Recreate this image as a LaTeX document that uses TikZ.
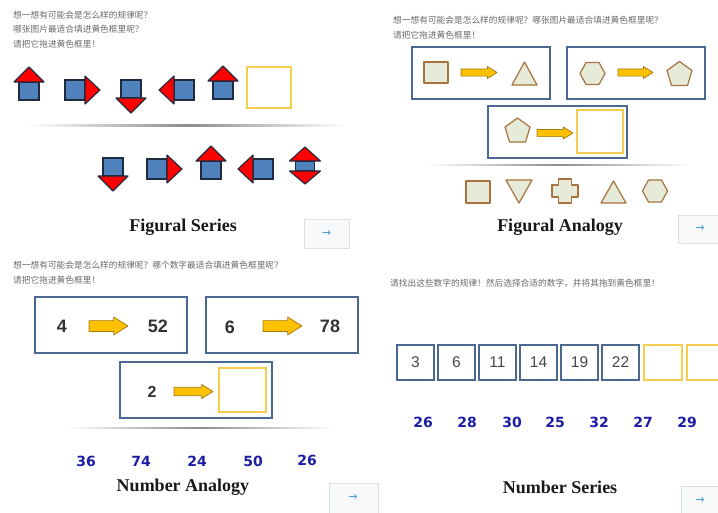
\documentclass[tikz,border=0pt]{standalone}
\usepackage{fontspec}
\setmainfont{Liberation Serif}
\newfontfamily\cjk{Noto Sans CJK SC}
\newfontfamily\arialf{Liberation Sans}
\newfontfamily\dvs{DejaVu Sans}
\usetikzlibrary{calc}
\definecolor{cngray}{HTML}{6A6A6A}
\definecolor{sqblue}{HTML}{4F81BD}
\definecolor{sqedge}{HTML}{1E2A3E}
\definecolor{ygold}{HTML}{F5CD50}
\definecolor{boxblue}{HTML}{4A6892}
\definecolor{figbrown}{HTML}{A8733C}
\definecolor{figfill}{HTML}{E6EBD9}
\definecolor{yarrowfill}{HTML}{FFC000}
\definecolor{yarrowedge}{HTML}{9C7A10}
\definecolor{optblue}{HTML}{1C1CA8}
\definecolor{numgray}{HTML}{333333}
\definecolor{btngray}{HTML}{D9DEE3}
\definecolor{btnfill}{HTML}{F8F9FA}
\definecolor{btnarrow}{HTML}{3A9AD0}
\tikzset{
  cn/.style={anchor=west, font=\cjk\fontsize{8.7}{10}\selectfont, text=cngray, inner sep=0pt},
  ttl/.style={font=\bfseries\fontsize{18}{20}\selectfont, inner sep=0pt, text=black!90},
  sqr/.style={draw=sqedge, fill=sqblue, line width=1.1pt},
  hd/.style={draw=sqedge, fill=red, line width=1.1pt, line join=round},
  ybox/.style={draw=ygold, line width=1.3pt},
  bbox/.style={draw=boxblue, line width=1.6pt},
  fig/.style={draw=figbrown, fill=figfill, line width=1.2pt, line join=round},
  yarr/.style={draw=yarrowedge, fill=yarrowfill, line width=0.7pt, line join=round},
  opt/.style={font=\dvs\bfseries\fontsize{14}{16}\selectfont, text=optblue, inner sep=0pt},
  num/.style={font=\arialf\bfseries\fontsize{18}{20}\selectfont, text=numgray, inner sep=0pt},
  snum/.style={font=\arialf\fontsize{15.5}{17}\selectfont, text=numgray!90, inner sep=0pt},
  btn/.style={draw=btngray, fill=btnfill, line width=0.6pt},
  btnarr/.style={font=\dvs\fontsize{11}{12}\selectfont, text=btnarrow, inner sep=0pt},
  sep/.style={left color=white, right color=white, middle color=black!45},
  pics/arrup/.style={code={
    \draw[sqr] (-10,-9) rectangle (10,9);
    \draw[hd] (-15,-9) -- (15,-9) -- (0,-24) -- cycle;}},
  pics/arrdown/.style={code={
    \draw[sqr] (-10,-9) rectangle (10,9);
    \draw[hd] (-15,9) -- (15,9) -- (0,24) -- cycle;}},
  pics/arrright/.style={code={
    \draw[sqr] (-10,-10) rectangle (10,10);
    \draw[hd] (10,-14) -- (10,14) -- (25,0) -- cycle;}},
  pics/arrleft/.style={code={
    \draw[sqr] (-10,-10) rectangle (10,10);
    \draw[hd] (-10,-14) -- (-10,14) -- (-25,0) -- cycle;}},
  pics/arrboth/.style={code={
    \draw[sqr] (-9.5,-5) rectangle (9.5,5);
    \draw[hd] (-15.5,-5) -- (15.5,-5) -- (0,-19) -- cycle;
    \draw[hd] (-15.5,5) -- (15.5,5) -- (0,18) -- cycle;}},
}
% yellow block arrow: x0, x1, yc, h
\newcommand\yarw[4]{\draw[yarr] (#1,{#3-#4*0.3}) -- ({#2-#4*0.8},{#3-#4*0.3}) -- ({#2-#4*0.8},{#3-#4/2}) -- (#2,#3) -- ({#2-#4*0.8},{#3+#4/2}) -- ({#2-#4*0.8},{#3+#4*0.3}) -- (#1,{#3+#4*0.3}) -- cycle;}
% hexagon: cx, cy
\newcommand\hexa[2]{\draw[fig] ({#1-12.5},#2) -- ({#1-6.5},{#2-11}) -- ({#1+6.5},{#2-11}) -- ({#1+12.5},#2) -- ({#1+6.5},{#2+11}) -- ({#1-6.5},{#2+11}) -- cycle;}
% pentagon: cx, cy
\newcommand\penta[2]{\draw[fig] (#1,{#2-12}) -- ({#1+12.5},{#2-3}) -- ({#1+8},{#2+12}) -- ({#1-8},{#2+12}) -- ({#1-12.5},{#2-3}) -- cycle;}
\begin{document}
\begin{tikzpicture}[x=1pt,y=-1pt]
\useasboundingbox (0,0) rectangle (718,512);
\fill[white] (0,0) rectangle (718,512);

% ================= Panel 1: Figural Series =================
\node[cn] (p1t1) at (13,15) {想一想有可能会是怎么样的规律呢？};
\node[cn] (p1t2) at (13,29) {哪张图片最适合填进黄色框里呢？};
\node[cn] (p1t3) at (13,44) {请把它拖进黄色框里！};
\pic at (29,91) {arrup};
\pic at (75,90) {arrright};
\pic at (131,89) {arrdown};
\pic at (184,90) {arrleft};
\pic at (223,90) {arrup};
\draw[ybox] (247,67) rectangle (291,108);
\shade[sep] (27,124.8) rectangle (347,126);
\pic at (113,167) {arrdown};
\pic at (157,169) {arrright};
\pic at (211,170) {arrup};
\pic at (263,169) {arrleft};
\pic at (305,166) {arrboth};
\node[ttl] (p1title) at (183,227) {Figural Series};
\draw[btn] (304,219) rectangle (349,248);
\node[btnarr] (p1btn) at (326.5,234) {→};

% ================= Panel 2: Figural Analogy =================
\node[cn] (p2t1) at (393,20) {想一想有可能会是怎么样的规律呢？哪张图片最适合填进黄色框里呢？};
\node[cn] (p2t2) at (393,35) {请把它拖进黄色框里！};
\draw[bbox] (412,47) rectangle (550,99);
\draw[bbox] (567,47) rectangle (705,99);
\draw[bbox] (488,106) rectangle (627,158);
\draw[fig] (424,62) rectangle (448,83);
\yarw{461}{497}{72.5}{12}
\draw[fig] (512,85) -- (537,85) -- (524.5,62) -- cycle;
\hexa{592.5}{73.5}
\yarw{618}{653}{72.5}{12}
\penta{679.5}{73.5}
\penta{517.5}{130}
\yarw{537}{573}{133}{12}
\draw[ybox] (577,110) rectangle (623,153);
\shade[sep] (427,164.6) rectangle (690,165.8);
\draw[fig] (466,181) rectangle (490,203);
\draw[fig] (506,180) -- (532,180) -- (519,203) -- cycle;
\draw[fig] (558.5,179) -- (571.5,179) -- (571.5,185) -- (578,185) -- (578,197) -- (571.5,197) -- (571.5,203) -- (558.5,203) -- (558.5,197) -- (552,197) -- (552,185) -- (558.5,185) -- cycle;
\draw[fig] (601,203) -- (626,203) -- (613.5,181) -- cycle;
\hexa{655}{191}
\node[ttl] (p2title) at (560,227) {Figural Analogy};
\draw[btn] (678,215) rectangle (722,243);
\node[btnarr] (p2btn) at (700,229) {→};

% ================= Panel 3: Number Analogy =================
\node[cn] (p3t1) at (13,265) {想一想有可能会是怎么样的规律呢？哪个数字最适合填进黄色框里呢？};
\node[cn] (p3t2) at (13,280) {请把它拖进黄色框里！};
\draw[bbox] (35,297) rectangle (187,353);
\draw[bbox] (206,297) rectangle (358,353);
\draw[bbox] (120,362) rectangle (272,418);
\node[num] (n4) at (62,326) {4};
\yarw{89}{128}{326}{18}
\node[num] (n52) at (158,326) {52};
\node[num] (n6) at (230,327) {6};
\yarw{263}{302}{326}{18}
\node[num] (n78) at (330,326) {78};
\node[num, font=\arialf\bfseries\fontsize{16}{18}\selectfont] (n2) at (152,392) {2};
\yarw{174}{213}{391.5}{14}
\draw[ybox] (219,368) rectangle (266,412);
\shade[sep] (65,427.5) rectangle (335,428.7);
\node[opt] (o36) at (86,461) {36};
\node[opt] (o74) at (141,461) {74};
\node[opt] (o24) at (197,461) {24};
\node[opt] (o50) at (253,461) {50};
\node[opt] (o26a) at (307,460) {26};
\node[ttl] (p3title) at (183,487) {Number Analogy};
\draw[btn] (329,483) rectangle (378,515);
\node[btnarr] (p3btn) at (353,498) {→};

% ================= Panel 4: Number Series =================
\node[cn] (p4t1) at (390,283) {请找出这些数字的规律！然后选择合适的数字，并将其拖到黄色框里！};
\foreach \x/\v [count=\i] in {397/3,438/6,479/11,520/14,561/19,602/22}{
  \draw[bbox] (\x,345) rectangle (\x+37,380);
  \node[snum] (s\i) at (\x+18.5,362.5) {\v};
}
\draw[ybox] (644,345) rectangle (682,380);
\draw[ybox] (687,345) rectangle (725,380);
\node[opt] (q26) at (423,422) {26};
\node[opt] (q28) at (467,422) {28};
\node[opt] (q30) at (512,422) {30};
\node[opt] (q25) at (555,422) {25};
\node[opt] (q32) at (599,422) {32};
\node[opt] (q27) at (643,422) {27};
\node[opt] (q29) at (687,422) {29};
\node[ttl] (p4title) at (560,487) {Number Series};
\draw[btn] (681,486) rectangle (722,515);
\node[btnarr] (p4btn) at (700,501) {→};
\end{tikzpicture}
\end{document}
